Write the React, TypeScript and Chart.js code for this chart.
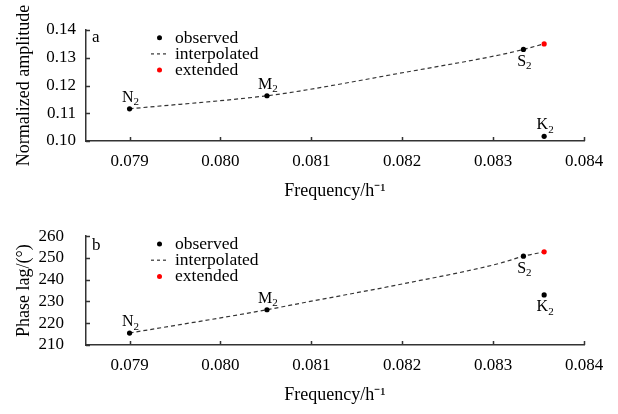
import React, { useEffect, useRef } from 'react';
import { Chart, registerables } from 'chart.js';

Chart.register(...registerables);

// ---- data ----
const constituentNames = ['N', 'M', 'S', 'K'];
const constituentSubscripts = ['2', '2', '2', '2'];
const observedFrequency = [0.0789992, 0.0805114, 0.0833333, 0.0835615];
const observedAmplitude = [0.1116, 0.1163, 0.133, 0.1017];
const observedPhase = [215.5, 226.2, 250.8, 233.0];
const extendedFrequency = [0.0835615];
const extendedAmplitude = [0.135];
const extendedPhase = [252.8];
const curveFrequency = [0.0789992, 0.0805114, 0.08087, 0.08197, 0.08307, 0.0833333, 0.0835615];
const curveAmplitude = [0.1116, 0.1163, 0.118, 0.1244, 0.131, 0.133, 0.135];
const curvePhase = [215.5, 226.2, 229.1, 237.8, 247.5, 250.8, 252.8];
const frequencyTicks = [0.079, 0.08, 0.081, 0.082, 0.083, 0.084];
const amplitudeTicks = [0.1, 0.11, 0.12, 0.13, 0.14];
const phaseTicks = [210, 220, 230, 240, 250, 260];
const legendLabels = ['observed', 'interpolated', 'extended'];

// ---- style ----
const FONT = "'Liberation Serif', 'Times New Roman', serif";
const AXIS_COLOR = '#333';
const amplitudeLabelPlacement = ['above', 'above', 'below', 'above'];
const phaseLabelPlacement = ['above', 'above', 'below', 'below'];

type PanelProps = {
  top: number;
  letter: string;
  letterBaseline: number;
  legendTop: number;
  yObserved: number[];
  yExtended: number[];
  yCurve: number[];
  yTicks: number[];
  yDecimals: number;
  yTitle: string;
  yTickPadding: number;
  labelPlacement: string[];
};

function Panel(p: PanelProps) {
  const ref = useRef<HTMLCanvasElement | null>(null);
  useEffect(() => {
    const canvas = ref.current;
    if (!canvas) return;

    const overlay = {
      id: 'overlay',
      afterDraw(chart: any) {
        const ctx = chart.ctx as CanvasRenderingContext2D;
        const area = chart.chartArea;
        const xs = chart.scales.x;
        const ys = chart.scales.y;
        ctx.save();
        // inward tick marks
        ctx.strokeStyle = AXIS_COLOR;
        ctx.lineWidth = 1.5;
        ctx.beginPath();
        xs.ticks.forEach((t: any) => {
          const px = Math.round(xs.getPixelForValue(t.value)) + 0.5;
          ctx.moveTo(px, area.bottom);
          ctx.lineTo(px, area.bottom - 4);
        });
        ys.ticks.forEach((t: any) => {
          const py = Math.round(ys.getPixelForValue(t.value)) + 0.5;
          ctx.moveTo(area.left, py);
          ctx.lineTo(area.left + 4, py);
        });
        ctx.stroke();

        // point labels with subscripts
        const meta = chart.getDatasetMeta(0);
        ctx.fillStyle = '#000';
        ctx.textBaseline = 'alphabetic';
        ctx.textAlign = 'left';
        meta.data.forEach((el: any, i: number) => {
          const main = constituentNames[i];
          const sub = constituentSubscripts[i];
          ctx.font = `16px ${FONT}`;
          const wm = ctx.measureText(main).width;
          ctx.font = `11px ${FONT}`;
          const ws = ctx.measureText(sub).width;
          const x0 = el.x - (wm + ws) / 2 + 1;
          const base = p.labelPlacement[i] === 'above' ? el.y - 7 : el.y + 16.5;
          ctx.font = `16px ${FONT}`;
          ctx.fillText(main, x0, base);
          ctx.font = `11px ${FONT}`;
          ctx.fillText(sub, x0 + wm, base + 3.5);
        });

        // panel letter
        ctx.font = `17px ${FONT}`;
        ctx.fillText(p.letter, 92, p.letterBaseline);

        // legend
        legendLabels.forEach((label, i) => {
          const ry = p.legendTop + i * 16.2;
          if (i === 1) {
            ctx.strokeStyle = AXIS_COLOR;
            ctx.lineWidth = 1.2;
            ctx.setLineDash([3, 3]);
            ctx.beginPath();
            ctx.moveTo(151, ry);
            ctx.lineTo(168, ry);
            ctx.stroke();
            ctx.setLineDash([]);
          } else {
            ctx.fillStyle = i === 0 ? '#000' : '#f00';
            ctx.beginPath();
            ctx.arc(159.5, ry, 2.5, 0, Math.PI * 2);
            ctx.fill();
          }
          ctx.fillStyle = '#000';
          ctx.font = `17.5px ${FONT}`;
          ctx.fillText(label, 175, ry + 5);
        });
        ctx.restore();
      },
    };

    const chart = new Chart(canvas, {
      type: 'scatter',
      data: {
        datasets: [
          {
            label: legendLabels[0],
            data: observedFrequency.map((f, i) => ({ x: f, y: p.yObserved[i] })),
            backgroundColor: '#000',
            borderColor: '#000',
            pointRadius: 2.6,
            pointHoverRadius: 2.6,
            borderWidth: 0,
          },
          {
            label: legendLabels[2],
            data: extendedFrequency.map((f, i) => ({ x: f, y: p.yExtended[i] })),
            backgroundColor: '#f00',
            borderColor: '#f00',
            pointRadius: 2.6,
            pointHoverRadius: 2.6,
            borderWidth: 0,
          },
          {
            label: legendLabels[1],
            data: curveFrequency.map((f, i) => ({ x: f, y: p.yCurve[i] })),
            showLine: true,
            borderColor: AXIS_COLOR,
            borderWidth: 1.2,
            borderDash: [4, 3],
            pointRadius: 0,
            pointHoverRadius: 0,
            cubicInterpolationMode: 'monotone',
            fill: false,
          } as any,
        ],
      },
      options: {
        responsive: false,
        animation: false,
        events: [],
        layout: { padding: { left: 0, top: 30, right: 34, bottom: 0 } },
        plugins: { legend: { display: false }, tooltip: { enabled: false } },
        scales: {
          x: {
            type: 'linear',
            min: 0.07852,
            max: 0.084,
            afterBuildTicks: (s: any) => {
              s.ticks = frequencyTicks.map((v) => ({ value: v }));
            },
            afterFit: (s: any) => {
              s.height = 66;
            },
            grid: { display: false, drawTicks: false, tickLength: 0 },
            border: { display: true, color: AXIS_COLOR, width: 1.5 },
            ticks: {
              padding: 10,
              color: '#000',
              font: { family: FONT, size: 17 },
              maxRotation: 0,
              autoSkip: false,
              callback: (v: any) => Number(v).toFixed(3),
            },
            title: {
              display: true,
              text: 'Frequency/h⁻¹',
              color: '#000',
              font: { family: FONT, size: 18 },
              padding: { top: 0, bottom: 5 },
            },
          },
          y: {
            type: 'linear',
            min: p.yTicks[0],
            max: p.yTicks[p.yTicks.length - 1],
            afterBuildTicks: (s: any) => {
              s.ticks = p.yTicks.map((v) => ({ value: v }));
            },
            afterFit: (s: any) => {
              s.width = 86;
            },
            grid: { display: false, drawTicks: false, tickLength: 0 },
            border: { display: true, color: AXIS_COLOR, width: 1.5 },
            ticks: {
              padding: p.yTickPadding,
              color: '#000',
              font: { family: FONT, size: 17 },
              autoSkip: false,
              callback: (v: any) => Number(v).toFixed(p.yDecimals),
            },
            title: {
              display: true,
              text: p.yTitle,
              color: '#000',
              font: { family: FONT, size: 18 },
              padding: { top: 13, bottom: 0 },
            },
          },
        },
      },
      plugins: [overlay],
    });
    return () => chart.destroy();
  }, []);

  return (
    <div style={{ position: 'absolute', left: 0, top: p.top, width: 618, height: 207 }}>
      <canvas ref={ref} width={618} height={207} style={{ width: 618, height: 207, display: 'block' }} />
    </div>
  );
}

export default function App() {
  return (
    <div style={{ position: 'fixed', left: 0, top: 0, width: 618, height: 414, background: '#fff' }}>
      <Panel
        top={0}
        letter="a"
        letterBaseline={42}
        legendTop={37.7}
        yObserved={observedAmplitude}
        yExtended={extendedAmplitude}
        yCurve={curveAmplitude}
        yTicks={amplitudeTicks}
        yDecimals={2}
        yTitle="Normalized amplitude"
        yTickPadding={10}
        labelPlacement={amplitudeLabelPlacement}
      />
      <Panel
        top={204}
        letter="b"
        letterBaseline={46}
        legendTop={40}
        yObserved={observedPhase}
        yExtended={extendedPhase}
        yCurve={curvePhase}
        yTicks={phaseTicks}
        yDecimals={0}
        yTitle="Phase lag/(°)"
        yTickPadding={22}
        labelPlacement={phaseLabelPlacement}
      />
    </div>
  );
}
